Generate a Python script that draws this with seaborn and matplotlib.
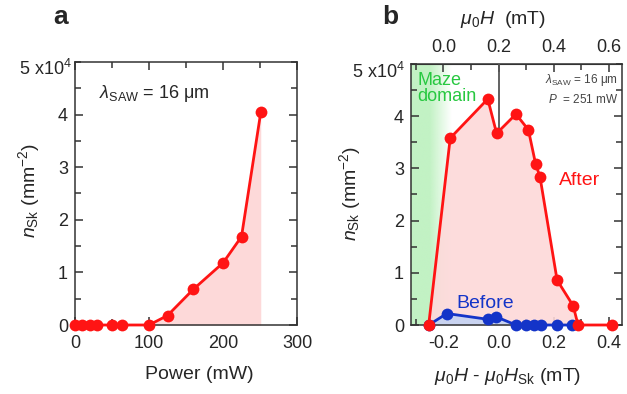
import numpy as np
import pandas as pd
import matplotlib
matplotlib.use("Agg")
import matplotlib.pyplot as plt
import seaborn as sns
from matplotlib.ticker import MultipleLocator
from matplotlib.colors import to_rgb

# ---------------- data ----------------
power_mw = [0, 10, 20, 30, 50, 63, 100, 125, 160, 200, 225, 251]
nsk_vs_power = [0, 0, 0, 0, 0, 0, 0, 0.18e4, 0.68e4, 1.18e4, 1.68e4, 4.04e4]

field_after = [-0.253, -0.175, -0.039, -0.007, 0.063, 0.108, 0.134, 0.150, 0.212, 0.270, 0.288, 0.409]
nsk_after = [0, 3.58e4, 4.33e4, 3.67e4, 4.04e4, 3.74e4, 3.09e4, 2.84e4, 0.86e4, 0.37e4, 0, 0]

field_before = [-0.253, -0.187, -0.040, -0.010, 0.063, 0.100, 0.128, 0.153, 0.213, 0.265]
nsk_before = [0, 0.22e4, 0.11e4, 0.16e4, 0, 0, 0, 0, 0, 0]

y_ticks = [0, 1e4, 2e4, 3e4, 4e4]
y_ticklabels = ["0", "1", "2", "3", "4"]
a_xticks = [0, 100, 200, 300]
b_xticks = [-0.2, 0.0, 0.2, 0.4]
b_top_ticks = [0.0, 0.2, 0.4, 0.6]
H_SK = 0.2          # offset between mu0H and mu0H - mu0H_Sk
MAZE_EDGE = -0.25   # end of the maze domain region
MAZE_FADE = -0.17

df_a = pd.DataFrame({"power": power_mw, "nsk": nsk_vs_power})
df_after = pd.DataFrame({"field": field_after, "nsk": nsk_after})
df_before = pd.DataFrame({"field": field_before, "nsk": nsk_before})

# ---------------- style ----------------
sns.set_style("ticks")
plt.rcParams["font.family"] = ["Liberation Sans", "DejaVu Sans"]
plt.rcParams["mathtext.fontset"] = "custom"
plt.rcParams["mathtext.rm"] = "Liberation Sans"
plt.rcParams["mathtext.it"] = "Liberation Sans:italic"
plt.rcParams["mathtext.bf"] = "Liberation Sans:bold"
plt.rcParams["axes.unicode_minus"] = False

RED = "#ff1414"
BLUE = "#1434c8"
PINK = "#fdd9d9"
LIGHTBLUE = "#c9d3f0"
GREEN = "#c2f2c4"
SPINE = "#333333"
TICK_FS = 13
LABEL_FS = 14

W, H = 627, 394
fig = plt.figure(figsize=(W / 100, H / 100), dpi=100)

def fx(px):
    return px / W

def fy(py):
    return 1 - py / H

ax_a = fig.add_axes([fx(75), fy(325), fx(297) - fx(75), fy(62) - fy(325)])
ax_b = fig.add_axes([fx(411), fy(325), fx(622) - fx(411), fy(64) - fy(325)])

def style_axes(ax, top=True):
    for s in ax.spines.values():
        s.set_color(SPINE)
        s.set_linewidth(1.1)
        s.set_visible(True)
    ax.tick_params(which="both", direction="in", top=top, right=True,
                   color=SPINE, width=1.1, labelsize=TICK_FS)
    ax.tick_params(which="major", length=5.5)
    ax.tick_params(which="minor", length=4)
    ax.tick_params(axis="x", which="both", pad=7)
    ax.tick_params(axis="y", which="both", pad=5)
    ax.set_ylim(0, 5e4)
    ax.set_yticks(y_ticks)
    ax.set_yticklabels(y_ticklabels)
    ax.yaxis.set_minor_locator(MultipleLocator(0.5e4))

# ---------------- panel a ----------------
ax_a.fill_between(df_a["power"], 0, df_a["nsk"], color=PINK, lw=0, zorder=1)
sns.lineplot(data=df_a, x="power", y="nsk", ax=ax_a, color=RED, lw=2,
             marker="o", markersize=8.5, markeredgewidth=0, clip_on=False, zorder=5)
style_axes(ax_a)
ax_a.set_xlim(0, 300)
ax_a.set_xticks(a_xticks)
ax_a.xaxis.set_minor_locator(MultipleLocator(50))
ax_a.set_xlabel("Power (mW)", fontsize=LABEL_FS)
ax_a.set_ylabel(r"$n_{\mathrm{Sk}}$ (mm$^{-2}$)", fontsize=LABEL_FS)
ax_a.xaxis.set_label_coords(fx(199), fy(366), transform=fig.transFigure)
ax_a.yaxis.set_label_coords(fx(42), fy(190), transform=fig.transFigure)
ax_a.text(-0.015, 0.973, r"5 x10$^4$", transform=ax_a.transAxes,
          ha="right", va="center", fontsize=TICK_FS)
ax_a.text(0.11, 0.88, r"$\lambda_{\mathrm{SAW}}$ = 16 μm", transform=ax_a.transAxes,
          ha="left", va="center", fontsize=TICK_FS)
fig.text(fx(61), fy(17), "a", fontsize=19, fontweight="bold", ha="center", va="center")

# ---------------- panel b ----------------
b_xmin, b_xmax = -0.317, 0.447
ax_b.set_xlim(b_xmin, b_xmax)
# maze domain background with fade
n = 200
xs = np.linspace(b_xmin, MAZE_FADE, n)
alpha = np.clip((MAZE_FADE - xs) / (MAZE_FADE - MAZE_EDGE), 0, 1)
rgba = np.zeros((1, n, 4))
rgba[..., :3] = to_rgb(GREEN)
rgba[..., 3] = alpha
ax_b.imshow(rgba, extent=[b_xmin, MAZE_FADE, 0, 5e4], aspect="auto",
            interpolation="bilinear", zorder=0)

ax_b.fill_between(df_after["field"], 0, df_after["nsk"], color=PINK, alpha=0.9, lw=0, zorder=1)
ax_b.fill_between(df_before["field"], 0, df_before["nsk"], color=LIGHTBLUE, lw=0, zorder=2)
ax_b.plot([0, 0], [nsk_after[3], 5e4], color="#555555", lw=1.3, zorder=3)
sns.lineplot(data=df_before, x="field", y="nsk", ax=ax_b, color=BLUE, lw=2,
             marker="o", markersize=8.5, markeredgewidth=0, clip_on=False, zorder=4)
sns.lineplot(data=df_after, x="field", y="nsk", ax=ax_b, color=RED, lw=2,
             marker="o", markersize=8.5, markeredgewidth=0, clip_on=False, zorder=5)
style_axes(ax_b, top=False)
ax_b.set_xlim(b_xmin, b_xmax)
ax_b.set_xticks(b_xticks)
ax_b.set_xticklabels([f"{v:.1f}" for v in b_xticks])
ax_b.xaxis.set_minor_locator(MultipleLocator(0.1))
ax_b.set_xlabel(r"$\mu_0H$ - $\mu_0H_{\mathrm{Sk}}$ (mT)", fontsize=LABEL_FS)
ax_b.set_ylabel(r"$n_{\mathrm{Sk}}$ (mm$^{-2}$)", fontsize=LABEL_FS)
ax_b.xaxis.set_label_coords(fx(508), fy(366), transform=fig.transFigure)
ax_b.yaxis.set_label_coords(fx(363), fy(193), transform=fig.transFigure)
ax_b.text(-0.028, 0.969, r"5 x10$^4$", transform=ax_b.transAxes,
          ha="right", va="center", fontsize=TICK_FS)

sec = ax_b.secondary_xaxis("top", functions=(lambda x: x + H_SK, lambda x: x - H_SK))
sec.set_xticks(b_top_ticks)
sec.set_xticklabels([f"{v:.1f}" for v in b_top_ticks])
sec.xaxis.set_minor_locator(MultipleLocator(0.1))
sec.tick_params(which="both", direction="in", color=SPINE, width=1.1,
                labelsize=TICK_FS, pad=6)
sec.tick_params(which="major", length=5.5)
sec.tick_params(which="minor", length=4)
sec.spines["top"].set_color(SPINE)
sec.set_xlabel(r"$\mu_0H$  (mT)", fontsize=LABEL_FS)
sec.xaxis.set_label_coords(fx(503), fy(24), transform=fig.transFigure)

ax_b.text(0.03, 0.905, "Maze\ndomain", transform=ax_b.transAxes, color="#27c840",
          fontsize=13, ha="left", va="center", linespacing=0.9)
ax_b.text(0.98, 0.905, r"$\lambda_{\mathrm{SAW}}$ = 16 μm" + "\n" + r"$P$  = 251 mW",
          transform=ax_b.transAxes, color="#444444", fontsize=8.5,
          ha="right", va="center", linespacing=1.5)
ax_b.text(0.294, 2.77e4, "After", color=RED, fontsize=14, ha="center", va="center")
ax_b.text(-0.049, 0.42e4, "Before", color=BLUE, fontsize=14, ha="center", va="center")
fig.text(fx(390), fy(17), "b", fontsize=19, fontweight="bold", ha="center", va="center")

fig.savefig("out.png", dpi=100)
